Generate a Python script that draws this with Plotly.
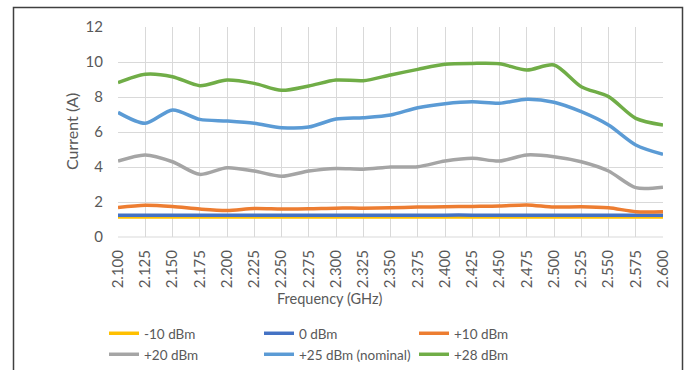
import plotly.graph_objects as go

freq = [2.100, 2.125, 2.150, 2.175, 2.200, 2.225, 2.250, 2.275, 2.300, 2.325, 2.350,
        2.375, 2.400, 2.425, 2.450, 2.475, 2.500, 2.525, 2.550, 2.575, 2.600]
tick_labels = ["%.3f" % f for f in freq]

m10 = [1.14, 1.14, 1.14, 1.14, 1.14, 1.14, 1.14, 1.14, 1.14, 1.14, 1.14,
       1.14, 1.14, 1.14, 1.14, 1.14, 1.14, 1.14, 1.14, 1.14, 1.14]
p0 = [1.24, 1.24, 1.24, 1.24, 1.24, 1.24, 1.24, 1.24, 1.24, 1.24, 1.24,
      1.24, 1.25, 1.25, 1.25, 1.25, 1.25, 1.25, 1.25, 1.25, 1.25]
p10 = [1.68, 1.81, 1.74, 1.60, 1.52, 1.63, 1.60, 1.61, 1.65, 1.65, 1.67,
       1.71, 1.73, 1.75, 1.77, 1.83, 1.71, 1.73, 1.67, 1.45, 1.45]
p20 = [4.34, 4.69, 4.30, 3.58, 3.96, 3.77, 3.47, 3.77, 3.92, 3.87, 4.00,
       4.02, 4.34, 4.50, 4.34, 4.69, 4.59, 4.30, 3.77, 2.82, 2.85]
p25 = [7.12, 6.50, 7.26, 6.72, 6.63, 6.50, 6.25, 6.28, 6.74, 6.82, 6.97,
       7.39, 7.62, 7.73, 7.64, 7.87, 7.70, 7.16, 6.40, 5.26, 4.72]
p28 = [8.82, 9.30, 9.16, 8.65, 8.97, 8.78, 8.38, 8.63, 8.97, 8.93, 9.26,
       9.58, 9.87, 9.92, 9.90, 9.54, 9.83, 8.59, 8.02, 6.78, 6.40]

series = [
    ("-10 dBm", m10, "#FFC000", "legend"),
    ("0 dBm", p0, "#4472C4", "legend"),
    ("+10 dBm", p10, "#ED7D31", "legend"),
    ("+20 dBm", p20, "#A5A5A5", "legend2"),
    ("+25 dBm (nominal)", p25, "#5B9BD5", "legend2"),
    ("+28 dBm", p28, "#70AD47", "legend2"),
]

FONT = "Lato"
GREY = "#595959"

fig = go.Figure()
for name, vals, color, leg in series:
    fig.add_trace(go.Scatter(
        x=freq, y=vals, name=name, mode="lines", legend=leg,
        line=dict(color=color, width=3.5, shape="spline", smoothing=0.8),
    ))

W, H = 688, 370
L, R, T, B = 118, 25, 27, 133
pw, ph = W - L - R, H - T - B

def px(x):
    return (x - L) / pw

def py(y):
    return (H - B - y) / ph

def legend_at(top):
    return dict(
        orientation="h",
        x=px(104), y=py(top), xanchor="left", yanchor="top",
        entrywidth=110, entrywidthmode="pixels",
        font=dict(family=FONT, size=13.5, color=GREY),
        itemwidth=30, bgcolor="rgba(0,0,0,0)",
    )

fig.update_layout(
    width=W, height=H,
    margin=dict(l=L, r=R, t=T, b=B, autoexpand=False),
    paper_bgcolor="white", plot_bgcolor="white",
    font=dict(family=FONT, size=15, color=GREY),
    showlegend=True,
    legend=legend_at(318),
    legend2=legend_at(339),
    xaxis=dict(
        range=[2.1, 2.6], tickmode="array", tickvals=freq, ticktext=tick_labels,
        tickangle=-90, showgrid=True, gridcolor="#D9D9D9", gridwidth=1,
        zeroline=False, showline=False, ticks="", ticklabelstandoff=9,
        tickfont=dict(family=FONT, size=15, color=GREY),
    ),
    yaxis=dict(
        range=[0, 12], dtick=2, showgrid=True, gridcolor="#D9D9D9", gridwidth=1,
        zeroline=False, showline=False, ticks="", ticklabelstandoff=14,
        tickfont=dict(family=FONT, size=15, color=GREY),
    ),
    shapes=[
        dict(type="rect", xref="paper", yref="paper",
             x0=px(13.5), x1=px(682.5), y0=py(380), y1=py(7.5),
             line=dict(color="#404040", width=1.5), fillcolor="rgba(0,0,0,0)"),
        dict(type="line", xref="paper", yref="paper",
             x0=0, x1=1, y0=0, y1=0, line=dict(color="#D9D9D9", width=1)),
    ],
    annotations=[
        dict(text="Frequency (GHz)", xref="paper", yref="paper",
             x=px(330), y=py(298), xanchor="center", yanchor="middle",
             showarrow=False, font=dict(family=FONT, size=14.5, color=GREY)),
        dict(text="Current (A)", xref="paper", yref="paper",
             x=px(71), y=py(132), xanchor="center", yanchor="middle",
             textangle=-90, showarrow=False,
             font=dict(family=FONT, size=16, color=GREY)),
    ],
)

fig.write_html("out.html", config={"displayModeBar": False},
               post_script="document.body.style.margin='0';")
